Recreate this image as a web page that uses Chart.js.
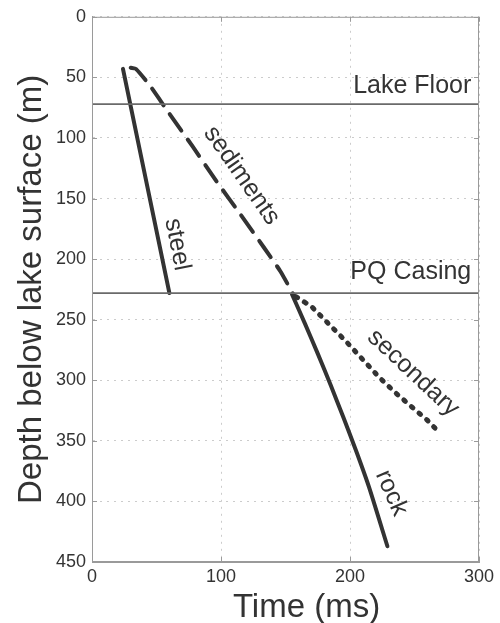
<!DOCTYPE html>
<html>
<head>
<meta charset="utf-8">
<script src="https://cdn.jsdelivr.net/npm/chart.js@4.4.1/dist/chart.umd.min.js"></script>
<style>
  html, body { margin: 0; padding: 0; background: #ffffff; }
  #wrap { width: 500px; height: 623px; }
</style>
</head>
<body>
<div id="wrap"><canvas id="chart" width="500" height="623"></canvas></div>
<script>
// Travel time picks (time in ms, depth in m)
const steelTime = [24, 60];
const steelDepth = [43, 228];

const sedimentsTime = [30, 34, 45, 60, 78, 96, 115, 133, 146, 156];
const sedimentsDepth = [42, 43, 57, 80, 107, 135, 163, 190, 210, 229];

const rockTime = [155, 165, 175, 185, 195, 205, 215, 229];
const rockDepth = [229, 253, 278, 304, 331, 359, 389, 437];

const secondaryTime = [158, 170, 184, 197, 210, 223, 236, 249, 260, 270];
const secondaryDepth = [231, 239, 254, 268, 283, 298, 311, 323, 333, 344];

// Horizontal markers
const lakeFloorDepth = 72;
const casingDepth = 228;
const markerTimeSpan = [0, 300];

const TEXT = '#333333';
const FONT = "'Liberation Sans', Arial, Helvetica, sans-serif";

function toPoints(xs, ys) {
  return xs.map((x, i) => ({ x: x, y: ys[i] }));
}

// labels written along the curves: [text, time, depth, angle deg]
const curveLabels = [
  ['steel', 66, 188, 79],
  ['sediments', 116, 131, 55],
  ['secondary', 249, 294, 43],
  ['rock', 232, 393, 66]
];
const markerLabels = [
  ['Lake Floor', 294, 57],
  ['PQ Casing', 294, 211]
];

const decorations = {
  id: 'decorations',
  afterDraw(chart) {
    const ctx = chart.ctx;
    const area = chart.chartArea;
    const xs = chart.scales.x;
    const ys = chart.scales.y;
    ctx.save();

    // box round the plot
    ctx.strokeStyle = '#9a9a9a';
    ctx.lineWidth = 1;
    ctx.strokeRect(area.left + 0.5, area.top + 0.5, area.right - area.left - 1, area.bottom - area.top - 1);

    // inward tick marks
    ctx.beginPath();
    xs.ticks.forEach(t => {
      const px = Math.round(xs.getPixelForValue(t.value)) + 0.5;
      ctx.moveTo(px, area.bottom); ctx.lineTo(px, area.bottom - 5);
      ctx.moveTo(px, area.top); ctx.lineTo(px, area.top + 5);
    });
    ys.ticks.forEach(t => {
      const py = Math.round(ys.getPixelForValue(t.value)) + 0.5;
      ctx.moveTo(area.left, py); ctx.lineTo(area.left + 5, py);
      ctx.moveTo(area.right, py); ctx.lineTo(area.right - 5, py);
    });
    ctx.stroke();

    // curve labels
    ctx.fillStyle = TEXT;
    ctx.font = '25px ' + FONT;
    ctx.textAlign = 'center';
    ctx.textBaseline = 'middle';
    curveLabels.forEach(([text, t, d, ang]) => {
      ctx.save();
      ctx.translate(xs.getPixelForValue(t), ys.getPixelForValue(d));
      ctx.rotate(ang * Math.PI / 180);
      ctx.fillText(text, 0, 0);
      ctx.restore();
    });

    // marker labels
    ctx.textAlign = 'right';
    markerLabels.forEach(([text, t, d]) => {
      ctx.fillText(text, xs.getPixelForValue(t), ys.getPixelForValue(d));
    });

    // axis titles
    ctx.font = '33px ' + FONT;
    ctx.textAlign = 'center';
    ctx.textBaseline = 'alphabetic';
    ctx.fillText('Time (ms)', (area.left + area.right) / 2 + 21, 617);

    ctx.save();
    ctx.translate(41, (area.top + area.bottom) / 2);
    ctx.rotate(-Math.PI / 2);
    ctx.fillText('Depth below lake surface (m)', 0, 0);
    ctx.restore();

    ctx.restore();
  }
};

const lineBase = {
  showLine: true,
  pointRadius: 0,
  borderColor: '#333333',
  borderWidth: 4,
  borderCapStyle: 'round',
  borderJoinStyle: 'round',
  fill: false,
  tension: 0
};

new Chart(document.getElementById('chart'), {
  type: 'scatter',
  data: {
    datasets: [
      { label: 'Lake Floor', data: toPoints(markerTimeSpan, [lakeFloorDepth, lakeFloorDepth]),
        showLine: true, pointRadius: 0, borderColor: '#6a6a6a', borderWidth: 1.8 },
      { label: 'PQ Casing', data: toPoints(markerTimeSpan, [casingDepth, casingDepth]),
        showLine: true, pointRadius: 0, borderColor: '#6a6a6a', borderWidth: 1.8 },
      { ...lineBase, label: 'steel', data: toPoints(steelTime, steelDepth) },
      { ...lineBase, label: 'sediments', data: toPoints(sedimentsTime, sedimentsDepth), borderDash: [20, 11], tension: 0.2 },
      { ...lineBase, label: 'rock', data: toPoints(rockTime, rockDepth), tension: 0.2 },
      { ...lineBase, label: 'secondary', data: toPoints(secondaryTime, secondaryDepth), borderWidth: 5, borderDash: [2, 8] }
    ]
  },
  options: {
    responsive: false,
    animation: false,
    layout: { padding: { top: 13, right: 21, left: 0, bottom: 0 } },
    plugins: {
      legend: { display: false },
      tooltip: { enabled: false }
    },
    scales: {
      x: {
        type: 'linear',
        min: 0,
        max: 300,
        afterFit(scale) { scale.height = 61; },
        ticks: { stepSize: 100, color: TEXT, font: { size: 18, family: FONT }, padding: 4, maxRotation: 0 },
        grid: { color: '#cccccc', drawTicks: false },
        border: { color: '#9a9a9a', dash: [2, 5] }
      },
      y: {
        type: 'linear',
        reverse: true,
        min: 0,
        max: 450,
        afterFit(scale) { scale.width = 92; },
        ticks: { stepSize: 50, color: TEXT, font: { size: 18, family: FONT }, padding: 6 },
        grid: { color: '#cccccc', drawTicks: false },
        border: { color: '#9a9a9a', dash: [2, 5] }
      }
    }
  },
  plugins: [decorations]
});
</script>
</body>
</html>
